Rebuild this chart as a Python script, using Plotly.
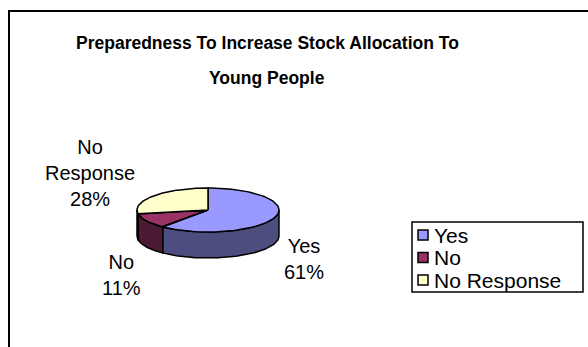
import numpy as np
import plotly.graph_objects as go

# Survey answers and their shares (percent)
labels = ["Yes", "No", "No Response"]
values = [61, 11, 28]
top_colors = ["#9999FF", "#993366", "#FFFFCC"]
side_colors = ["#4D4D80", "#4D1A33", "#80806A"]
title_lines = ["Preparedness To Increase Stock Allocation To", "Young People"]

W, H = 588, 347
FONT = "Liberation Sans, Arial, sans-serif"

# 3-D pie geometry in pixel units (y grows downward)
cx, cy, rx, ry, depth = 208, 210, 71, 22, 26


def arc(t0, t1, n=80):
    """Points on the top ellipse; angles in degrees, clockwise from 12 o'clock."""
    t = np.radians(np.linspace(t0, t1, n))
    return cx + rx * np.sin(t), cy - ry * np.cos(t)


total = float(sum(values))
bounds = np.concatenate([[0.0], np.cumsum(values) / total * 360.0])

fig = go.Figure()

# visible rim (front half of the cylinder)
for i in range(len(values)):
    a, b = max(bounds[i], 90.0), min(bounds[i + 1], 270.0)
    if b <= a:
        continue
    xs, ys = arc(a, b)
    x = list(xs) + list(xs[::-1]) + [xs[0]]
    y = list(ys) + list(ys[::-1] + depth) + [ys[0]]
    fig.add_trace(go.Scatter(
        x=x, y=y, mode="lines", fill="toself", fillcolor=side_colors[i],
        line=dict(color="black", width=1.5), hoverinfo="skip", showlegend=False))

# top faces of the slices
for i in range(len(values)):
    xs, ys = arc(bounds[i], bounds[i + 1])
    x = [cx] + list(xs) + [cx]
    y = [cy] + list(ys) + [cy]
    fig.add_trace(go.Scatter(
        x=x, y=y, mode="lines", fill="toself", fillcolor=top_colors[i],
        line=dict(color="black", width=1.5), hoverinfo="skip", showlegend=False))

annotations = []
shapes = []

# data labels: category name and share
label_pos = {"Yes": (304, 259), "No": (121, 275), "No Response": (90, 173)}
for lab, v in zip(labels, values):
    px, py = label_pos[lab]
    text = "<br>".join(lab.split(" ") + [f"{v}%"])
    annotations.append(dict(x=px, y=py, xref="x", yref="y", text=text,
                            showarrow=False, align="center",
                            font=dict(family=FONT, size=20, color="black")))

# title, two lines
for line, ty in zip(title_lines, [43, 78]):
    annotations.append(dict(x=267, y=ty, xref="x", yref="y", text=line,
                            showarrow=False,
                            font=dict(family=FONT, size=17.5, color="black",
                                      weight="bold")))

# legend: bordered box with square swatches
lg_left, lg_right, lg_top, lg_bottom = 412, 583, 222, 292
row_y = [235, 257.5, 280]
for lab, col, ry_ in zip(labels, top_colors, row_y):
    shapes.append(dict(type="rect", x0=418, x1=428, y0=ry_ - 5, y1=ry_ + 5,
                       xref="x", yref="y", fillcolor=col,
                       line=dict(color="black", width=1.5)))
    annotations.append(dict(x=433, y=ry_, xref="x", yref="y", text=lab,
                            showarrow=False, xanchor="left", yanchor="middle",
                            borderpad=0,
                            font=dict(family=FONT, size=21, color="black")))
shapes.append(dict(type="rect", x0=lg_left, x1=lg_right, y0=lg_top, y1=lg_bottom,
                   xref="x", yref="y", line=dict(color="black", width=1.5)))

# chart border (continues past the right and bottom edges)
shapes.append(dict(type="path", path="M 9 400 L 9 11 L 650 11", xref="x", yref="y",
                   line=dict(color="black", width=2)))

fig.update_layout(
    width=W, height=H,
    margin=dict(l=0, r=0, t=0, b=0),
    paper_bgcolor="white", plot_bgcolor="white",
    xaxis=dict(range=[0, W], visible=False, fixedrange=True),
    yaxis=dict(range=[H, 0], visible=False, fixedrange=True),
    showlegend=False,
    annotations=annotations,
    shapes=shapes,
)

fig.write_html("out.html", config={"displayModeBar": False})
